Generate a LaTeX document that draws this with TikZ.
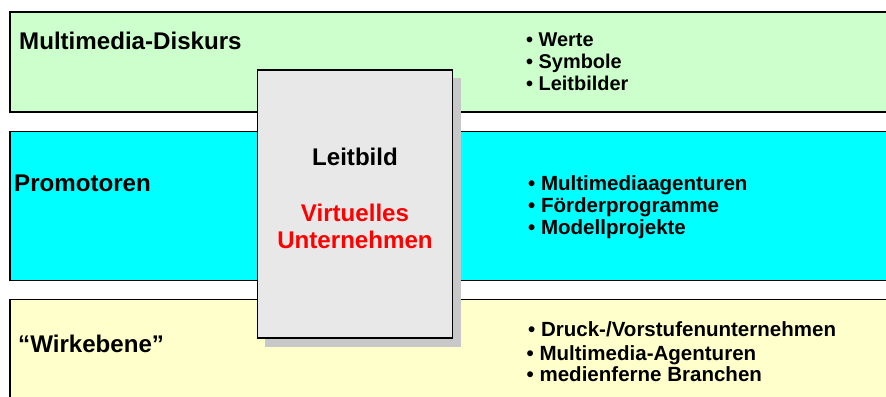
\documentclass[tikz,border=0pt]{standalone}
\usepackage{fontspec}
\setmainfont{Liberation Sans}
\definecolor{bandgreen}{HTML}{CCFFCC}
\definecolor{bandcyan}{HTML}{00FFFF}
\definecolor{bandyellow}{HTML}{FFFFCC}
\definecolor{boxgray}{HTML}{E8E8E8}
\definecolor{shadowgray}{HTML}{C8C8C8}
\begin{document}
\begin{tikzpicture}[x=1bp,y=-1bp,
  band/.style={draw=black,line width=1.4bp},
  heading/.style={anchor=base west,inner sep=0pt,font=\fontsize{24.2}{29}\selectfont\bfseries},
  item/.style={anchor=base west,inner sep=0pt,font=\fontsize{20.6}{24}\selectfont\bfseries},
  smallitem/.style={anchor=base west,inner sep=0pt,font=\fontsize{20.0}{23}\selectfont\bfseries},
  boxtext/.style={anchor=base,inner sep=0pt,font=\fontsize{24.2}{29}\selectfont\bfseries}]
\useasboundingbox (0,0) rectangle (886,396);
% horizontal bands, running off the right and bottom edges
\begin{scope}
\clip (0,0) rectangle (886,396);
\filldraw[band,fill=bandgreen] (10,12) rectangle (900,112);
\filldraw[band,fill=bandcyan] (10,131.5) rectangle (900,280.5);
\filldraw[band,fill=bandyellow] (10,299.5) rectangle (900,420);
\end{scope}
% central card with drop shadow
\fill[shadowgray] (265,78) rectangle (461,347);
\filldraw[band,fill=boxgray] (257.5,70) rectangle (452.5,338);
% band headings
\node[heading] (h1) at (19,49) {Multimedia-Diskurs};
\node[heading] (h2) at (14,191.5) {Promotoren};
\node[heading] (h3) at (18,352) {“Wirkebene”};
% card texts
\node[boxtext] (lb) at (355,165) {Leitbild};
\node[boxtext,text=red] (vu1) at (355,221.5) {Virtuelles};
\node[boxtext,text=red] (vu2) at (355,248.3) {Unternehmen};
% lists
\node[smallitem] (a1) at (526,46.3) {• Werte};
\node[smallitem] (a2) at (526,68.2) {• Symbole};
\node[smallitem] (a3) at (526,90.2) {• Leitbilder};
\node[item] (b1) at (528,190.7) {• Multimediaagenturen};
\node[item] (b2) at (528,212.3) {• Förderprogramme};
\node[item] (b3) at (528,234) {• Modellprojekte};
\node[item] (c1) at (528,336.8) {• Druck-/Vorstufenunternehmen};
\node[item] (c2) at (526.5,360.7) {• Multimedia-Agenturen};
\node[item] (c3) at (526.5,381.7) {• medienferne Branchen};
\end{tikzpicture}
\end{document}
